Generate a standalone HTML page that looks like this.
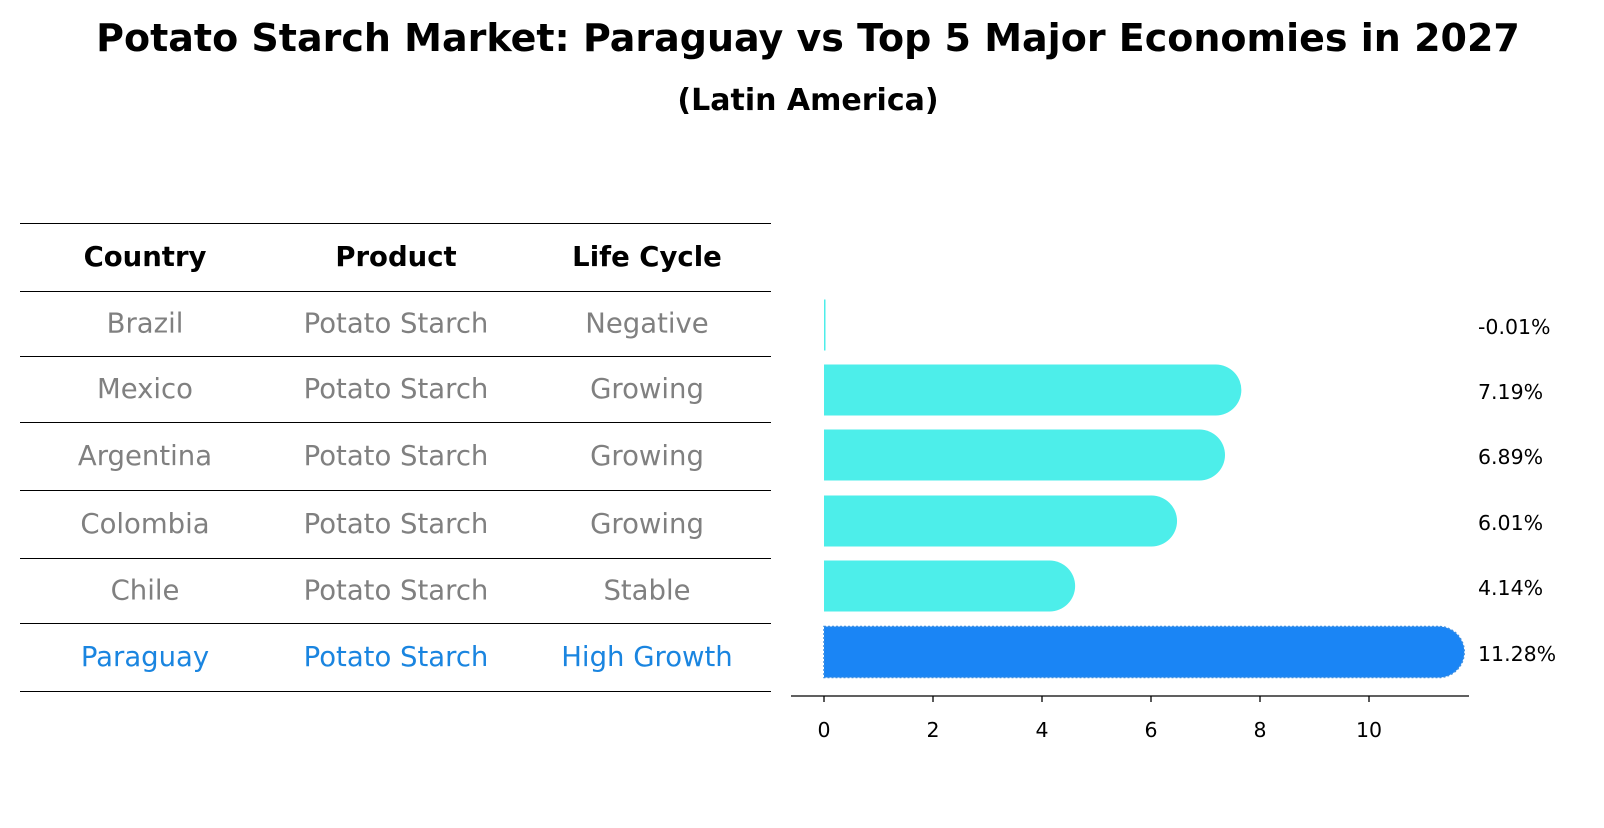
<!DOCTYPE html>
<html><head><meta charset="utf-8"><style>
body{margin:0;background:#fff;font-family:"Liberation Sans","DejaVu Sans",sans-serif}
svg text{font-family:"DejaVu Sans","Liberation Sans",sans-serif}
</style></head><body>
<svg width="1604" height="823" xmlns="http://www.w3.org/2000/svg">
<text x="808" y="51" text-anchor="middle" font-size="38" font-weight="bold">Potato Starch Market: Paraguay vs Top 5 Major Economies in 2027</text>
<text x="808" y="110" text-anchor="middle" font-size="30" font-weight="bold">(Latin America)</text>
<g id="table"></g>
<g id="bars"></g>
</svg>
<script>
const countries=["Brazil","Mexico","Argentina","Colombia","Chile","Paraguay"];
const products=["Potato Starch","Potato Starch","Potato Starch","Potato Starch","Potato Starch","Potato Starch"];
const lifeCycles=["Negative","Growing","Growing","Growing","Stable","High Growth"];
const values=[-0.01,7.19,6.89,6.01,4.14,11.28];
const ticks=[0,2,4,6,8,10];
const NS="http://www.w3.org/2000/svg";
function mk(t,a,p){const e=document.createElementNS(NS,t);for(const k in a)e.setAttribute(k,a[k]);p.appendChild(e);return e;}
const tbl=document.getElementById('table');
const lines=[223,291,356,422,490,558,623,691];
const rowY=i=>(lines[i+1]+lines[i+2])/2;
lines.forEach(y=>{const l=mk('line',{x1:20,x2:771,y1:y+0.5,y2:y+0.5,stroke:'#000','stroke-width':1,'shape-rendering':'crispEdges'},tbl);

});
const colX=[145,396,647];
["Country","Product","Life Cycle"].forEach((h,j)=>{const t=mk('text',{x:colX[j],y:(lines[0]+lines[1])/2+9,'text-anchor':'middle','font-size':27.5,'font-weight':'bold'},tbl);t.textContent=h;

});
countries.forEach((c,i)=>{const col=i===countries.length-1?'#1a85e0':'#808080';
[c,products[i],lifeCycles[i]].forEach((v,j)=>{const t=mk('text',{x:colX[j],y:rowY(i)+9,'text-anchor':'middle','font-size':27.5,fill:col},tbl);t.textContent=v;

});});
const g=document.getElementById('bars');
const x0=824,ux=54.5,xs=v=>x0+v*ux;
const barY=[325,390,455,521,586,652],bh=51;
values.forEach((v,i)=>{const hi=i===values.length-1;const col=hi?'#1a85f5':'#4deeea';const cy=barY[i];
if(Math.abs(v)<0.1){const r=mk('rect',{x:x0,y:cy-bh/2,width:1.5,height:bh,fill:col},g);

}
else{const p=mk('path',{d:`M${x0},${cy-bh/2}H${xs(v)}A${bh/2},${bh/2} 0 0 1 ${xs(v)},${cy+bh/2}H${x0}Z`,fill:col},g);
if(hi){p.setAttribute('stroke','#3f8fe0');p.setAttribute('stroke-dasharray','2,2');p.setAttribute('stroke-width','1.5');}

}
const t=mk('text',{x:1478,y:cy+9,'font-size':20.5},g);t.textContent=v.toFixed(2)+'%';

});
const ax=mk('line',{x1:791,x2:1469,y1:696,y2:696,stroke:'#000','stroke-width':1.3},g);


ticks.forEach(v=>{const l=mk('line',{x1:xs(v),x2:xs(v),y1:696,y2:702,stroke:'#000','stroke-width':1.3},g);


const t=mk('text',{x:xs(v),y:737,'text-anchor':'middle','font-size':20.5},g);t.textContent=v;

});
</script>
</body></html>
